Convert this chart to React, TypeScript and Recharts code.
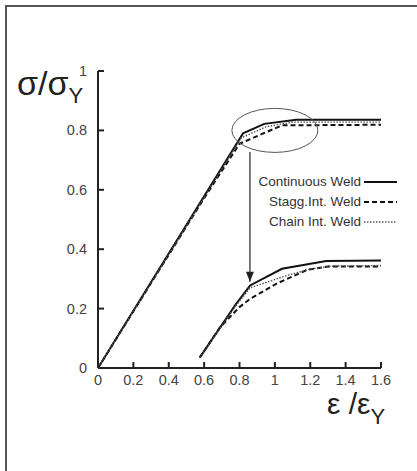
import React from 'react';
import { LineChart, Line, XAxis, YAxis, ReferenceDot, ReferenceLine } from 'recharts';

// strain ratio ticks / stress ratio ticks
const xTicks = [0, 0.2, 0.4, 0.6, 0.8, 1, 1.2, 1.4, 1.6];
const yTicks = [0, 0.2, 0.4, 0.6, 0.8, 1];

// loading curves (upper)
const continuousUpper = [
  { x: 0, y: 0 }, { x: 0.82, y: 0.79 }, { x: 0.94, y: 0.822 }, { x: 1.12, y: 0.836 }, { x: 1.6, y: 0.836 },
];
const staggUpper = [
  { x: 0, y: 0 }, { x: 0.6, y: 0.572 }, { x: 0.8, y: 0.755 }, { x: 1.04, y: 0.817 }, { x: 1.6, y: 0.819 },
];
const chainUpper = [
  { x: 0, y: 0 }, { x: 0.81, y: 0.775 }, { x: 0.95, y: 0.812 }, { x: 1.1, y: 0.828 }, { x: 1.6, y: 0.828 },
];

// reloading curves (lower)
const continuousLower = [
  { x: 0.575, y: 0.035 }, { x: 0.78, y: 0.215 }, { x: 0.86, y: 0.278 }, { x: 1.04, y: 0.334 }, { x: 1.29, y: 0.36 }, { x: 1.6, y: 0.362 },
];
const staggLower = [
  { x: 0.575, y: 0.035 }, { x: 0.69, y: 0.137 }, { x: 0.8, y: 0.205 }, { x: 0.86, y: 0.233 }, { x: 1.01, y: 0.284 }, { x: 1.18, y: 0.33 }, { x: 1.3, y: 0.342 }, { x: 1.6, y: 0.342 },
];
const chainLower = [
  { x: 0.575, y: 0.035 }, { x: 0.78, y: 0.21 }, { x: 0.86, y: 0.27 }, { x: 1.07, y: 0.312 }, { x: 1.2, y: 0.333 }, { x: 1.32, y: 0.343 }, { x: 1.6, y: 0.345 },
];

const seriesNames = ['Continuous Weld', 'Stagg.Int. Weld', 'Chain Int. Weld'];

// annotation: ellipse round the knee and arrow down to reloading curve
const ellipseCenter = { x: 1.0, y: 0.8 };
const arrowFrom = { x: 0.859, y: 0.727 };
const arrowTo = { x: 0.859, y: 0.29 };

const font = '"Liberation Sans", Arial, Helvetica, sans-serif';
const dash = ['', '5 3', '1.5 1.5'];
const widths = [2, 2, 1.4];
const colors = ['#111', '#111', '#555'];

// label plus a short inward tick mark
const XTick = ({ x, y, payload }: any) => (
  <g>
    <rect x={x - 1} y={y - 6} width={2} height={6} fill="#222" />
    <text x={x} y={y + 17} textAnchor="middle" fontSize={14.5} fill="#444" fontFamily={font}>
      {payload.value}
    </text>
  </g>
);

const YTick = ({ x, y, payload }: any) => (
  <g>
    <rect x={x} y={y - 1} width={6} height={2} fill="#222" />
    <text x={x - 11} y={y + 5} textAnchor="end" fontSize={14.5} fill="#444" fontFamily={font}>
      {payload.value}
    </text>
  </g>
);

export default function App() {
  return (
    <div style={{ position: 'fixed', left: 0, top: 0, width: 417, height: 471, background: '#fff' }}>
      <div
        style={{
          position: 'absolute', left: 5, top: 5, right: 0, bottom: 0,
          borderLeft: '2px solid #555', borderTop: '2px solid #555',
        }}
      />
      <LineChart width={417} height={471} margin={{ top: 71, right: 36, bottom: 73, left: 68 }}>
        <XAxis
          dataKey="x" type="number" domain={[0, 1.6]} ticks={xTicks} height={30}
          axisLine={{ stroke: '#222', strokeWidth: 2 }} tickLine={false} tickSize={0} tickMargin={0}
          tick={<XTick />} interval={0} allowDuplicatedCategory={false}
        />
        <YAxis
          dataKey="y" type="number" domain={[0, 1]} ticks={yTicks} width={30}
          axisLine={{ stroke: '#222', strokeWidth: 2 }} tickLine={false} tickSize={0} tickMargin={0}
          tick={<YTick />} interval={0}
        />
        {[continuousUpper, staggUpper, chainUpper].map((d, i) => (
          <Line key={'u' + i} data={d} dataKey="y" type="linear" stroke={colors[i]} strokeWidth={widths[i]}
            strokeDasharray={dash[i]} dot={false} activeDot={false} isAnimationActive={false} />
        ))}
        {[continuousLower, staggLower, chainLower].map((d, i) => (
          <Line key={'l' + i} data={d} dataKey="y" type="linear" stroke={colors[i]} strokeWidth={widths[i]}
            strokeDasharray={dash[i]} dot={false} activeDot={false} isAnimationActive={false} />
        ))}
        <ReferenceDot
          x={ellipseCenter.x} y={ellipseCenter.y}
          shape={(p: any) => <ellipse cx={p.cx} cy={p.cy} rx={43} ry={22} fill="none" stroke="#555" strokeWidth={1} />}
        />
        <ReferenceLine segment={[arrowFrom, arrowTo]} stroke="#222" strokeWidth={1.2} />
        <ReferenceDot
          x={arrowTo.x} y={arrowTo.y}
          shape={(p: any) => <path d={`M${p.cx - 4},${p.cy - 10} L${p.cx + 4},${p.cy - 10} L${p.cx},${p.cy} Z`} fill="#222" />}
        />
      </LineChart>

      {/* legend and axis titles */}
      <svg style={{ position: 'absolute', left: 0, top: 0 }} width={417} height={471} pointerEvents="none">
        {seriesNames.map((name, i) => (
          <g key={name}>
            <text x={361} y={186 + i * 20} textAnchor="end" fontSize={13.5} fill="#333" fontFamily={font}>{name}</text>
            <line x1={364} x2={397} y1={182 + i * 20} y2={182 + i * 20} stroke={colors[i]}
              strokeWidth={widths[i]} strokeDasharray={dash[i]} />
          </g>
        ))}
        <text x={17} y={95} fontSize={34} fill="#222" fontFamily={font}>
          σ/σ<tspan fontSize={22} dy={8}>Y</tspan>
        </text>
        <text x={327} y={414} fontSize={30} fill="#222" fontFamily={font}>
          ε /ε<tspan fontSize={22} dy={10}>Y</tspan>
        </text>
      </svg>
    </div>
  );
}
